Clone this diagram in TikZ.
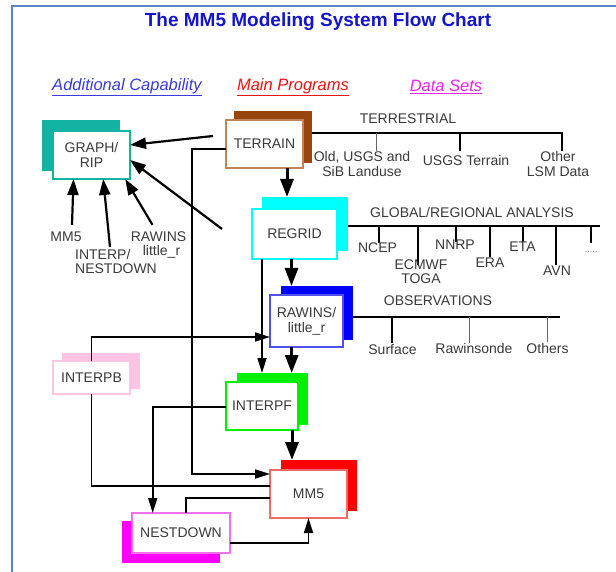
\documentclass[tikz,border=0pt]{standalone}
\usepackage{fontspec}
\setmainfont{Liberation Sans}
\usetikzlibrary{arrows.meta}
\definecolor{frameblue}{HTML}{5A87C5}
\definecolor{titleblue}{HTML}{1414CC}
\definecolor{legblue}{HTML}{3A3ADD}
\definecolor{legred}{HTML}{EE1111}
\definecolor{legmag}{HTML}{EE22EE}
\definecolor{txt}{HTML}{3A3A3A}
\definecolor{cteal}{HTML}{12B3A2}
\definecolor{cbrown}{HTML}{99450F}
\definecolor{cbrownl}{HTML}{C08458}
\definecolor{ccyan}{HTML}{00FFFF}
\definecolor{cblue}{HTML}{0000FF}
\definecolor{cbluel}{HTML}{5050F0}
\definecolor{cpink}{HTML}{FFC4E4}
\definecolor{cgreen}{HTML}{00F000}
\definecolor{cred}{HTML}{FF0000}
\definecolor{credl}{HTML}{F06A6A}
\definecolor{cmag}{HTML}{FF00FF}
\definecolor{cmagl}{HTML}{F070F0}
\definecolor{dropgray}{HTML}{666666}
\begin{document}
\begin{tikzpicture}[x=1pt,y=-1pt,
  lbl/.style={text=txt, font=\fontsize{14}{14.5}\selectfont, inner sep=0pt, align=center},
  front/.style={draw, fill=white, line width=1.2pt, inner sep=0pt, outer sep=0pt, text=txt, font=\fontsize{14}{15}\selectfont, align=center},
  shad/.style={inner sep=0pt, outer sep=0pt, anchor=north west},
  legend/.style={font=\itshape\fontsize{16.5}{17}\selectfont, inner sep=0pt},
  big/.style={line width=3pt, -{Triangle[length=18pt,width=13pt]}},
  thinarr/.style={line width=1.7pt, -{Triangle[length=15pt,width=9pt]}},
  midarr/.style={line width=2.2pt, -{Triangle[length=16pt,width=11pt]}},
  plain/.style={line width=1.7pt},
  bus/.style={line width=1.5pt},
  dropk/.style={line width=1.5pt},
  dropg/.style={line width=1pt, dropgray},
]
\useasboundingbox (0,0) rectangle (616,572);
\fill[white] (0,0) rectangle (616,572);
\draw[frameblue, line width=2pt] (12,572) -- (12,6) -- (616,6);

% title and legend
\node[font=\bfseries\fontsize{19}{19}\selectfont, text=titleblue] (title) at (318,22) {The MM5 Modeling System Flow Chart};
\node[legend, text=legblue] (leg1) at (127,87) {\underline{Additional Capability}};
\node[legend, text=legred] (leg2) at (293,87) {\underline{Main Programs}};
\node[legend, text=legmag] (leg3) at (446,87) {\underline{Data Sets}};

% shadows
\node[shad, fill=cteal, minimum width=78pt, minimum height=51pt] (graphS) at (42,120) {};
\node[shad, fill=cbrown, minimum width=78pt, minimum height=52pt] (terrainS) at (234,111) {};
\node[shad, fill=ccyan, minimum width=86pt, minimum height=54pt] (regridS) at (262,197) {};
\node[shad, fill=cblue, minimum width=72pt, minimum height=54pt] (rawinsS) at (281,286) {};
\node[shad, fill=cpink, minimum width=78pt, minimum height=36pt] (interpbS) at (62,353) {};
\node[shad, fill=cgreen, minimum width=71pt, minimum height=52pt] (interpfS) at (237,373) {};
\node[shad, fill=cred, minimum width=76pt, minimum height=51pt] (mm5S) at (281,460) {};
\node[shad, fill=cmag, minimum width=98pt, minimum height=42pt] (nestS) at (122,521) {};

% front boxes
\node[front, draw=cteal, minimum width=77pt, minimum height=48pt] (graph) at (91.5,155) {GRAPH/\\RIP};
\node[front, draw=cbrownl, minimum width=77pt, minimum height=48pt] (terrain) at (264.5,144) {TERRAIN};
\node[front, draw=ccyan, minimum width=85pt, minimum height=50pt] (regrid) at (294.5,234) {REGRID};
\node[front, draw=cbluel, minimum width=73pt, minimum height=52pt] (rawins) at (306.5,321) {RAWINS/\\little\_r};
\node[front, draw=cpink, minimum width=77pt, minimum height=33pt] (interpb) at (91.5,377.5) {INTERPB};
\node[front, draw=cgreen, minimum width=72pt, minimum height=48pt] (interpf) at (262,406) {INTERPF};
\node[front, draw=credl, minimum width=77pt, minimum height=48pt] (mm5) at (308.5,494) {MM5};
\node[front, draw=cmagl, minimum width=98pt, minimum height=40pt] (nest) at (181,533) {NESTDOWN};

% main flow
\draw[big] ([xshift=22.5]terrain.south) -- ([xshift=-18]regridS.north);
\draw[big] ([xshift=-3]regrid.south) -- ([xshift=-25.5]rawinsS.north);
\draw[big] ([xshift=-14.8]rawins.south) -- ([xshift=19.2]interpfS.north);
\draw[big] ([xshift=30]interpf.south) -- ([xshift=-27]mm5S.north);
\draw[thinarr] ([xshift=-32.5]regrid.south) -- ([xshift=-10.5]interpfS.north);
\draw[thinarr] (interpb.north) |- ([yshift=-16]rawins.west);
\draw[thinarr] ([yshift=-5]terrain.west) -- ++(-34,0) |- ([yshift=20]mm5.west);
\draw[plain] ([yshift=8]mm5.west) -| (interpb.south);
\draw[plain] ([yshift=-4]mm5.west) -| ([xshift=5]nest.north);
\draw[thinarr] ([yshift=-1]interpf.west) -| ([xshift=-28.3]nest.north);
\draw[thinarr] ([yshift=-10]nest.east) -| (mm5.south);

% GRAPH/RIP inputs
\coordinate (fromT) at (213,136);
\coordinate (fromR) at (222,229);
\draw[midarr] (fromT) -- ([yshift=10]graph.east);
\draw[midarr] (fromR) -- ([yshift=-5]graph.east);
\node[lbl] (lMM5) at (66,237) {MM5};
\node[lbl, align=left] (lInterp) at (116,261.5) {INTERP/\\NESTDOWN};
\node[lbl] (lRaw) at (158.5,237) {RAWINS};
\node[lbl] (lRawb) at (161.5,252) {little\_r};
\draw[midarr] ([xshift=6,yshift=7]lMM5.north) -- ([xshift=-18]graph.south);
\draw[midarr] ([xshift=-6,yshift=2]lInterp.north) -- ([xshift=11.7]graph.south);
\draw[midarr] ([xshift=-6,yshift=7]lRaw.north) -- ([xshift=33.7]graph.south);

% TERRESTRIAL
\coordinate (tEnd) at (563,133);
\draw[bus] ([yshift=4]terrainS.east) -- (tEnd);
\node[lbl] (tLbl) at (408,119) {TERRESTRIAL};
\draw[dropg] (376,133) -- (376,151);
\draw[dropk] (460,133) -- (460,151);
\draw[dropk] (562,133) -- (562,151);
\node[lbl] (tOld) at (362,164) {Old, USGS and\\SiB Landuse};
\node[lbl] (tUsgs) at (466,160) {USGS Terrain};
\node[lbl] (tOther) at (558,164) {Other\\LSM Data};

% GLOBAL / REGIONAL ANALYSIS
\coordinate (gEnd) at (600,226);
\draw[bus] ([yshift=-2]regridS.east) -- (gEnd);
\node[lbl] (gLbl) at (472,212) {GLOBAL/REGIONAL ANALYSIS};
\draw[dropk] (379,226) -- (379,243);
\draw[dropk] (418,226) -- (418,265);
\draw[dropk] (456,226) -- (456,242);
\draw[dropk] (490,226) -- (490,257);
\draw[dropk] (523,226) -- (523,242);
\draw[dropk] (556,226) -- (556,265);
\draw[dropk] (591,226) -- (591,243);
\node[lbl] (gNcep) at (377.5,248) {NCEP};
\node[lbl] (gEcm) at (421,271.5) {ECMWF\\TOGA};
\node[lbl] (gNnrp) at (455,245) {NNRP};
\node[lbl] (gEra) at (490,263) {ERA};
\node[lbl] (gEta) at (522.5,247) {ETA};
\node[lbl] (gAvn) at (557,271) {AVN};
\node[lbl, text=gray, font=\fontsize{9}{9}\selectfont] (gDots) at (591,252) {.....};

% OBSERVATIONS
\coordinate (oEnd) at (560,317);
\draw[bus] ([yshift=-4]rawinsS.east) -- (oEnd);
\node[lbl] (oLbl) at (438,301) {OBSERVATIONS};
\draw[dropk] (392,317) -- (392,343);
\draw[dropg] (469,317) -- (469,343);
\draw[dropg] (547,317) -- (547,342);
\node[lbl] (oSurf) at (392.5,350) {Surface};
\node[lbl] (oRaw) at (474,348) {Rawinsonde};
\node[lbl] (oOth) at (547.5,348) {Others};
\end{tikzpicture}
\end{document}
